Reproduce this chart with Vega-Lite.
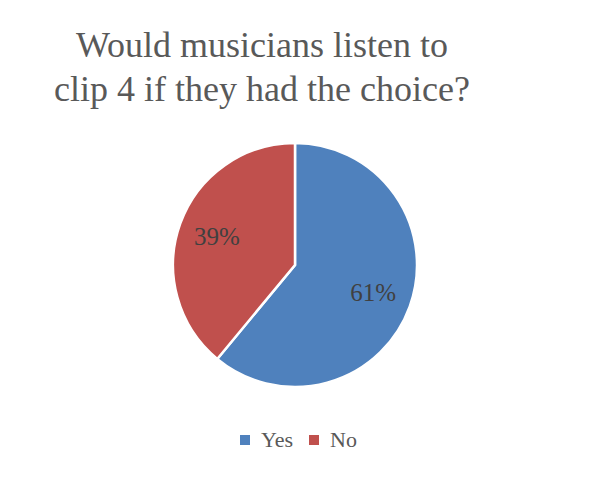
{
  "$schema": "https://vega.github.io/schema/vega-lite/v6.json",
  "width": 590,
  "height": 478,
  "autosize": {"type": "fit", "contains": "padding"},
  "padding": {"top": 28, "bottom": 27, "left": 5, "right": 5},
  "background": "white",
  "title": {
    "text": ["Would musicians listen to", "clip 4 if they had the choice?"],
    "font": "Liberation Serif",
    "fontSize": 36,
    "fontWeight": "normal",
    "color": "#595959",
    "lineHeight": 44,
    "anchor": "middle",
    "dx": -33,
    "offset": 18
  },
  "data": {
    "values": [
      {"answer": "Yes", "share": 61, "label": "61%", "ord": 1},
      {"answer": "No", "share": 39, "label": "39%", "ord": 2}
    ]
  },
  "encoding": {
    "theta": {"field": "share", "type": "quantitative", "stack": true},
    "order": {"field": "ord", "type": "quantitative"},
    "color": {
      "field": "answer",
      "type": "nominal",
      "scale": {"domain": ["Yes", "No"], "range": ["#4F81BD", "#C0504D"]},
      "legend": {
        "orient": "bottom",
        "direction": "horizontal",
        "title": null,
        "symbolType": "square",
        "symbolSize": 100,
        "symbolStrokeWidth": 0,
        "labelFont": "Liberation Serif",
        "labelFontSize": 22,
        "labelColor": "#595959",
        "labelOffset": 5,
        "columnPadding": 9,
        "offset": 26
      }
    }
  },
  "layer": [
    {
      "mark": {"type": "arc", "outerRadius": 122, "stroke": "white", "strokeWidth": 2.5}
    },
    {
      "mark": {"type": "text", "radius": 83, "font": "Liberation Serif", "fontSize": 25},
      "encoding": {"text": {"field": "label"}, "color": {"value": "#404040"}}
    }
  ],
  "config": {
    "view": {"stroke": null},
    "legend": {"layout": {"bottom": {"anchor": "middle"}}}
  }
}
